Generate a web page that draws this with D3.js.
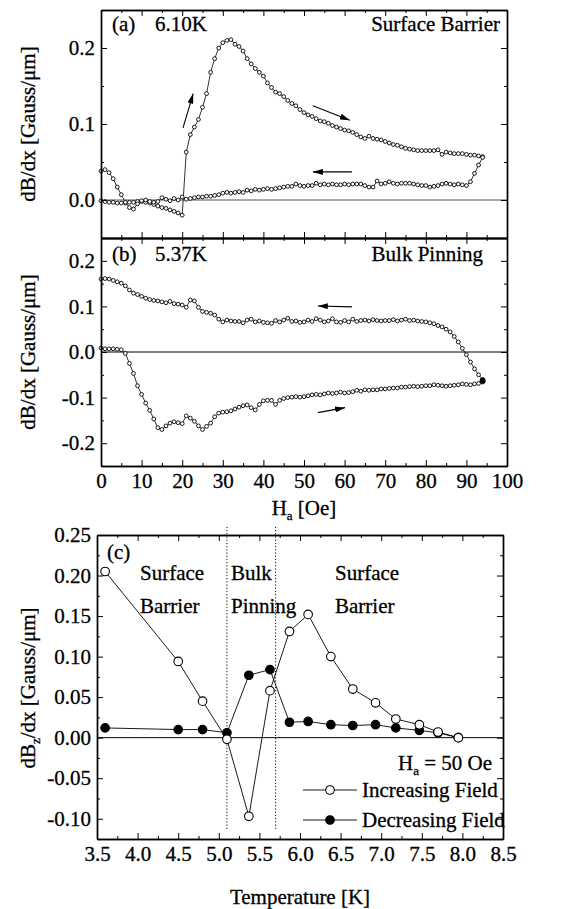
<!DOCTYPE html>
<html>
<head>
<meta charset="utf-8">
<script src="https://cdn.jsdelivr.net/npm/d3@7"></script>
<style>
  body { margin: 0; background: #fff; }
  svg text, .axis text {
    font-family: "Liberation Serif", "Times New Roman", Times, "DejaVu Serif", serif;
    font-size: 21px; fill: #000; stroke: #000; stroke-width: 0.3px;
  }
  .axis path, .axis line { stroke: #000; }
  .axis path { stroke-width: 1.4; }
  .axis line { stroke-width: 1; }
</style>
</head>
<body>
<div id="chart"></div>
<script>
// Field sweep (Oe), shared by panels (a) and (b)
const field_oe = [0, 1, 2, 3, 4, 5, 6, 7, 8, 9, 10, 11, 12, 13, 14, 15, 16, 17, 18, 19,
  20, 21, 22, 23, 24, 25, 26, 27, 28, 29, 30, 31, 32, 33, 34, 35, 36, 37, 38, 39,
  40, 41, 42, 43, 44, 45, 46, 47, 48, 49, 50, 51, 52, 53, 54, 55, 56, 57, 58, 59,
  60, 61, 62, 63, 64, 65, 66, 67, 68, 69, 70, 71, 72, 73, 74, 75, 76, 77, 78, 79,
  80, 81, 82, 83, 84, 85, 86, 87, 88, 89, 90, 91, 92, 93, 94];

// (a) 6.10K, surface barrier
const a_increasing = [-0.001, -0.002, -0.003, -0.003, -0.004, -0.004, -0.004, -0.003, -0.003, -0.002,
  -0.002, -0.003, -0.004, -0.006, -0.008, -0.010, -0.011, -0.013, -0.015, -0.017,
  -0.020, 0.063, 0.086, 0.096, 0.106, 0.122, 0.140, 0.168, 0.186, 0.200,
  0.207, 0.210, 0.211, 0.205, 0.202, 0.196, 0.186, 0.179, 0.173, 0.168,
  0.163, 0.154, 0.148, 0.142, 0.140, 0.136, 0.131, 0.127, 0.124, 0.119,
  0.115, 0.112, 0.110, 0.107, 0.104, 0.103, 0.101, 0.098, 0.096, 0.094,
  0.092, 0.091, 0.089, 0.086, 0.083, 0.081, 0.084, 0.081, 0.080, 0.079,
  0.077, 0.075, 0.073, 0.072, 0.070, 0.068, 0.067, 0.066, 0.065, 0.065,
  0.065, 0.065, 0.065, 0.066, 0.060, 0.063, 0.062, 0.061, 0.061, 0.061,
  0.060, 0.059, 0.059, 0.058, 0.057];
const a_decreasing = [0.038, 0.040, 0.036, 0.028, 0.017, 0.007, -0.003, -0.010, -0.012, -0.005,
  -0.001, 0.000, -0.002, -0.003, -0.002, 0.003, 0.001, -0.001, 0.002, 0.000,
  0.004, 0.001, 0.002, 0.003, 0.004, 0.004, 0.005, 0.005, 0.006, 0.007,
  0.009, 0.010, 0.009, 0.010, 0.011, 0.010, 0.013, 0.012, 0.014, 0.013,
  0.014, 0.015, 0.014, 0.015, 0.016, 0.017, 0.018, 0.018, 0.021, 0.019,
  0.018, 0.019, 0.019, 0.022, 0.020, 0.021, 0.020, 0.021, 0.020, 0.020,
  0.021, 0.020, 0.021, 0.021, 0.021, 0.019, 0.017, 0.017, 0.025, 0.021,
  0.022, 0.024, 0.022, 0.021, 0.022, 0.022, 0.022, 0.021, 0.020, 0.019,
  0.019, 0.017, 0.018, 0.019, 0.021, 0.022, 0.021, 0.020, 0.021, 0.020,
  0.019, 0.024, 0.035, 0.046, 0.056];

// (b) 5.37K, bulk pinning
const b_increasing = [0.009, 0.007, 0.007, 0.007, 0.006, 0.005, -0.003, -0.025, -0.047, -0.074,
  -0.093, -0.112, -0.128, -0.147, -0.166, -0.170, -0.162, -0.156, -0.153, -0.155,
  -0.157, -0.140, -0.145, -0.152, -0.162, -0.170, -0.163, -0.156, -0.142, -0.134,
  -0.132, -0.131, -0.129, -0.125, -0.121, -0.118, -0.116, -0.122, -0.127, -0.115,
  -0.107, -0.106, -0.106, -0.115, -0.106, -0.102, -0.100, -0.099, -0.098, -0.099,
  -0.098, -0.096, -0.094, -0.093, -0.094, -0.092, -0.090, -0.091, -0.090, -0.088,
  -0.090, -0.089, -0.087, -0.084, -0.086, -0.083, -0.084, -0.083, -0.083, -0.081,
  -0.081, -0.080, -0.079, -0.079, -0.077, -0.077, -0.076, -0.075, -0.076, -0.075,
  -0.074, -0.074, -0.072, -0.073, -0.074, -0.075, -0.074, -0.073, -0.072, -0.070,
  -0.071, -0.072, -0.070, -0.069, -0.066];
const b_decreasing = [0.160, 0.161, 0.160, 0.157, 0.154, 0.151, 0.145, 0.136, 0.129, 0.126,
  0.122, 0.118, 0.115, 0.113, 0.112, 0.110, 0.108, 0.111, 0.106, 0.105,
  0.103, 0.098, 0.114, 0.112, 0.098, 0.089, 0.087, 0.085, 0.081, 0.072,
  0.066, 0.070, 0.068, 0.067, 0.067, 0.064, 0.070, 0.072, 0.066, 0.068,
  0.065, 0.064, 0.063, 0.069, 0.066, 0.070, 0.074, 0.067, 0.068, 0.065,
  0.066, 0.070, 0.067, 0.073, 0.070, 0.066, 0.068, 0.073, 0.066, 0.065,
  0.069, 0.066, 0.072, 0.067, 0.069, 0.070, 0.068, 0.071, 0.069, 0.068,
  0.069, 0.069, 0.071, 0.068, 0.070, 0.072, 0.069, 0.070, 0.068, 0.067,
  0.066, 0.064, 0.062, 0.058, 0.055, 0.050, 0.044, 0.034, 0.022, 0.008,
  -0.006, -0.022, -0.037, -0.050, -0.060];
const b_turn = [94, -0.063];

// (c) H_a = 50 Oe versus temperature
const temps_k = [3.6, 4.5, 4.8, 5.1, 5.37, 5.63, 5.87, 6.1, 6.38, 6.65, 6.93, 7.18, 7.47, 7.7, 7.95];
const c_increasing = [0.205, 0.094, 0.045, -0.002, -0.097, 0.058, 0.131, 0.152, 0.100, 0.060, 0.043, 0.023, 0.016, 0.007, 0.000];
const c_decreasing = [0.012, 0.010, 0.010, 0.006, 0.077, 0.084, 0.019, 0.020, 0.016, 0.015, 0.016, 0.012, 0.009, 0.006, 0.000];
const regime_bounds = [5.1, 5.7];

// Ticks
const field_ticks = [0, 10, 20, 30, 40, 50, 60, 70, 80, 90, 100];
const a_ticks = [0, 0.1, 0.2];
const b_ticks = [-0.2, -0.1, 0, 0.1, 0.2];
const temp_ticks = [3.5, 4.0, 4.5, 5.0, 5.5, 6.0, 6.5, 7.0, 7.5, 8.0, 8.5];
const c_ticks = [-0.10, -0.05, 0.00, 0.05, 0.10, 0.15, 0.20, 0.25];

const width = 564, height = 909;

const svg = d3.select('#chart')
  .append('svg')
  .attr('width', width)
  .attr('height', height);

const defs = svg.append('defs');
defs.append('marker')
  .attr('id', 'head')
  .attr('markerUnits', 'userSpaceOnUse')
  .attr('viewBox', '0 0 10 6')
  .attr('refX', 10).attr('refY', 3)
  .attr('markerWidth', 10).attr('markerHeight', 6)
  .attr('orient', 'auto')
  .append('path')
  .attr('d', 'M0,0 L10,3 L0,6 Z')
  .attr('fill', '#000');

// Scales
const x_field = d3.scaleLinear().domain([0, 100]).range([101, 507]);
const y_a = d3.scaleLinear().domain([-0.05, 0.25]).range([238, 10]);
const y_b = d3.scaleLinear().domain([-0.25, 0.25]).range([466, 238]);
const x_temp = d3.scaleLinear().domain([3.5, 8.5]).range([97, 503]);
const y_c = d3.scaleLinear().domain([-0.125, 0.25]).range([839, 535]);

function addAxis(make, transform, major, minor, fmt, pad) {
  const g = svg.append('g').attr('class', 'axis').attr('transform', transform);
  g.call(make().tickValues(minor).tickSize(-3).tickSizeOuter(0).tickFormat(''));
  g.append('g').call(make().tickValues(major).tickSize(-6).tickSizeOuter(0)
    .tickPadding(pad).tickFormat(fmt || ''));
  return g;
}

function midpoints(ticks) {
  return ticks.slice(0, -1).map((t, i) => (t + ticks[i + 1]) / 2);
}

function frame(x, y, xMajor, yMajor, xFmt, yFmt, xMinor, yMinor) {
  const [x0, x1] = x.range();
  const [y0, y1] = y.range();
  addAxis(() => d3.axisBottom(x), `translate(0,${y0})`, xMajor, xMinor, xFmt, 7);
  addAxis(() => d3.axisTop(x), `translate(0,${y1})`, xMajor, xMinor, null, 7);
  addAxis(() => d3.axisLeft(y), `translate(${x0},0)`, yMajor, yMinor, yFmt, 6);
  addAxis(() => d3.axisRight(y), `translate(${x1},0)`, yMajor, yMinor, null, 6);
}

const field_minor = midpoints(field_ticks);
const one_dec = d => d.toFixed(1);
const two_dec = d => d.toFixed(2);

// Loops drawn as thin line plus small open circles
function loop(y, values, reverse) {
  let pts = field_oe.map((h, i) => [h, values[i]]);
  if (reverse) pts = pts.reverse();
  const line = d3.line().x(d => x_field(d[0])).y(d => y(d[1]));
  svg.append('path')
    .attr('d', line(pts))
    .attr('fill', 'none')
    .attr('stroke', '#000')
    .attr('stroke-width', 0.8);
  svg.append('g').selectAll('circle')
    .data(pts)
    .enter()
    .append('circle')
    .attr('cx', d => x_field(d[0]))
    .attr('cy', d => y(d[1]))
    .attr('r', 1.9)
    .attr('fill', '#fff')
    .attr('stroke', '#000')
    .attr('stroke-width', 0.9);
}

function arrow(x, y, from, to) {
  svg.append('line')
    .attr('x1', x(from[0])).attr('y1', y(from[1]))
    .attr('x2', x(to[0])).attr('y2', y(to[1]))
    .attr('stroke', '#000')
    .attr('stroke-width', 1.1)
    .attr('marker-end', 'url(#head)');
}

function zeroLine(x, y, color) {
  svg.append('line')
    .attr('x1', x.range()[0]).attr('x2', x.range()[1])
    .attr('y1', y(0)).attr('y2', y(0))
    .attr('stroke', color)
    .attr('stroke-width', 1);
}

// ---- Panel (a)
zeroLine(x_field, y_a, '#555');
loop(y_a, a_increasing, false);
loop(y_a, a_decreasing, true);
arrow(x_field, y_a, [20.2, 0.095], [22.7, 0.140]);
arrow(x_field, y_a, [52.2, 0.124], [61.3, 0.105]);
arrow(x_field, y_a, [61.8, 0.037], [52.2, 0.037]);
frame(x_field, y_a, field_ticks, a_ticks, null, one_dec, field_minor, [0.05, 0.15]);

svg.append('text').attr('x', 112).attr('y', 31).text('(a)');
svg.append('text').attr('x', 155).attr('y', 31).text('6.10K');
svg.append('text').attr('x', 500).attr('y', 31).attr('text-anchor', 'end').text('Surface Barrier');

// ---- Panel (b)
zeroLine(x_field, y_b, '#000');
loop(y_b, b_increasing, false);
loop(y_b, b_decreasing, true);
svg.append('circle')
  .attr('cx', x_field(b_turn[0])).attr('cy', y_b(b_turn[1]))
  .attr('r', 3).attr('fill', '#000');
arrow(x_field, y_b, [61.8, 0.099], [53.4, 0.101]);
arrow(x_field, y_b, [53.4, -0.133], [60.1, -0.122]);
frame(x_field, y_b, field_ticks, b_ticks, d => d, one_dec, field_minor, [-0.15, -0.05, 0.05, 0.15]);

svg.append('text').attr('x', 112).attr('y', 261).text('(b)');
svg.append('text').attr('x', 155).attr('y', 261).text('5.37K');
svg.append('text').attr('x', 483).attr('y', 261).attr('text-anchor', 'end').text('Bulk Pinning');

// x title shared by (a) and (b)
const hx = svg.append('text').attr('x', 304).attr('y', 515).attr('text-anchor', 'middle');
hx.append('tspan').text('H');
hx.append('tspan').attr('dy', 5).style('font-size', '13px').text('a');
hx.append('tspan').attr('dy', -5).text(' [Oe]');

// y titles for (a) and (b)
[[y_a, 124], [y_b, 352]].forEach(([y, cy]) => {
  svg.append('text')
    .attr('transform', `translate(35,${cy}) rotate(-90)`)
    .attr('text-anchor', 'middle')
    .text('dB/dx [Gauss/\u03bcm]');
});

// ---- Panel (c)
zeroLine(x_temp, y_c, '#000');
regime_bounds.forEach(t => {
  svg.append('line')
    .attr('x1', x_temp(t)).attr('x2', x_temp(t))
    .attr('y1', y_c(0.26)).attr('y2', y_c(-0.115))
    .attr('stroke', '#000')
    .attr('stroke-width', 1)
    .attr('stroke-dasharray', '1.2,2');
});

const c_line = d3.line().x(d => x_temp(d[0])).y(d => y_c(d[1]));
const c_series = [
  { values: c_decreasing, fill: '#000' },
  { values: c_increasing, fill: '#fff' }
];
c_series.forEach(s => {
  const pts = temps_k.map((t, i) => [t, s.values[i]]);
  svg.append('path')
    .attr('d', c_line(pts))
    .attr('fill', 'none')
    .attr('stroke', '#000')
    .attr('stroke-width', 0.9);
  svg.append('g').selectAll('circle')
    .data(pts)
    .enter()
    .append('circle')
    .attr('cx', d => x_temp(d[0]))
    .attr('cy', d => y_c(d[1]))
    .attr('r', 4.3)
    .attr('fill', s.fill)
    .attr('stroke', '#000')
    .attr('stroke-width', 1.1);
});

frame(x_temp, y_c, temp_ticks, c_ticks, one_dec, two_dec, midpoints(temp_ticks), midpoints(c_ticks));

svg.append('text').attr('x', 107).attr('y', 559).text('(c)');
[['Surface', 140, 580], ['Barrier', 140, 613], ['Bulk', 231, 580], ['Pinning', 231, 613],
 ['Surface', 335, 580], ['Barrier', 335, 613]].forEach(([t, x, y]) => {
  svg.append('text').attr('x', x).attr('y', y).text(t);
});

const ha = svg.append('text').attr('x', 492).attr('y', 770).attr('text-anchor', 'end');
ha.append('tspan').text('H');
ha.append('tspan').attr('dy', 5).style('font-size', '13px').text('a');
ha.append('tspan').attr('dy', -5).text(' = 50 Oe');

// legend
const legend = [
  { label: 'Increasing Field', fill: '#fff', y: 790 },
  { label: 'Decreasing Field', fill: '#000', y: 820 }
];
legend.forEach(l => {
  svg.append('line').attr('x1', 303).attr('x2', 357).attr('y1', l.y).attr('y2', l.y)
    .attr('stroke', '#000').attr('stroke-width', 0.9);
  svg.append('circle').attr('cx', 330).attr('cy', l.y).attr('r', 4.3)
    .attr('fill', l.fill).attr('stroke', '#000').attr('stroke-width', 1.1);
  svg.append('text').attr('x', 362).attr('y', l.y + 7).text(l.label);
});

svg.append('text').attr('x', 300).attr('y', 904).attr('text-anchor', 'middle').text('Temperature [K]');

const cy = svg.append('text')
  .attr('transform', 'translate(35,688) rotate(-90)')
  .attr('text-anchor', 'middle');
cy.append('tspan').text('dB');
cy.append('tspan').attr('dy', 5).style('font-size', '13px').text('z');
cy.append('tspan').attr('dy', -5).text('/dx [Gauss/\u03bcm]');
</script>
</body>
</html>
